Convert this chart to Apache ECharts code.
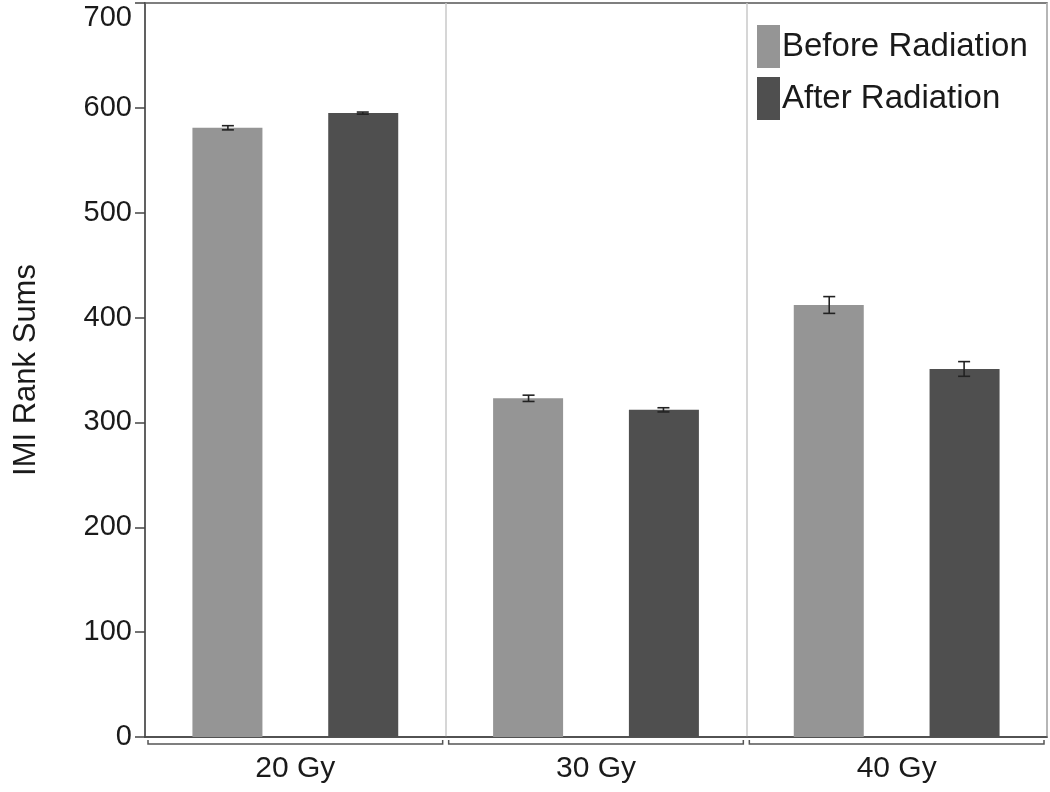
<!DOCTYPE html>
<html><head><meta charset="utf-8">
<script src="https://cdn.jsdelivr.net/npm/echarts@6/dist/echarts.min.js"></script>
<style>html,body{margin:0;padding:0;background:#fff}#c{width:1050px;height:792px}</style>
</head><body><div id="c"></div>
<script>
const categories = ['20 Gy', '30 Gy', '40 Gy'];
const seriesNames = ['Before Radiation', 'After Radiation'];
const beforeValues = [581, 323, 412];
const beforeErrors = [2, 3, 8];
const afterValues = [595, 312, 351];
const afterErrors = [1, 2, 7];
const yTicks = [0, 100, 200, 300, 400, 500, 600, 700];

const FONT = '"Liberation Sans", Arial, Helvetica, sans-serif';
const colors = ['#959595', '#4f4f4f'];
const chart = echarts.init(document.getElementById('c'));
const yMax = yTicks[yTicks.length - 1];

function errorSeries(name, values, errors, side) {
  return {
    type: 'custom', name: name + ' err', silent: true, z: 5,
    data: values.map((v, i) => [i, v, errors[i]]),
    renderItem: function (params, api) {
      const i = api.value(0), v = api.value(1), e = api.value(2);
      const band = api.size([1, 0])[0];
      const off = side * band * 0.2243;
      const top = api.coord([i, v + e]);
      const bot = api.coord([i, v - e]);
      const x = top[0] + off;
      const cap = 6;
      const st = { stroke: '#222', lineWidth: 1.6 };
      return { type: 'group', children: [
        { type: 'line', shape: { x1: x, y1: top[1], x2: x, y2: bot[1] }, style: st },
        { type: 'line', shape: { x1: x - cap, y1: top[1], x2: x + cap, y2: top[1] }, style: st },
        { type: 'line', shape: { x1: x - cap, y1: bot[1], x2: x + cap, y2: bot[1] }, style: st }
      ]};
    }
  };
}

const bracketSeries = {
  type: 'custom', silent: true, clip: false, z: 6,
  data: categories.map((c, i) => [i, 0]),
  renderItem: function (params, api) {
    const i = api.value(0);
    const band = api.size([1, 0])[0];
    const p = api.coord([i, 0]);
    const x1 = p[0] - band / 2 + 3, x2 = p[0] + band / 2 - 3;
    const y = p[1] + 7, yt = p[1] + 3;
    const st = { stroke: '#555', lineWidth: 1.5, fill: null };
    return { type: 'polyline', shape: { points: [[x1, yt], [x1, y], [x2, y], [x2, yt]] }, style: st };
  }
};

chart.setOption({
  animation: false,
  backgroundColor: '#fff',
  color: colors,
  grid: { left: 145, right: 3, top: 3, bottom: 55, show: true, borderColor: '#555', borderWidth: 1.5,
          backgroundColor: 'transparent', containLabel: false, outerBoundsMode: 'none' },
  legend: {
    data: seriesNames, left: 752, top: 20, orient: 'vertical',
    itemWidth: 23, itemHeight: 43, itemGap: 9, icon: 'rect',
    textStyle: { fontSize: 33, color: '#1a1a1a', fontFamily: FONT, padding: [0, 0, 0, -3] }
  },
  xAxis: {
    type: 'category', data: categories, boundaryGap: true,
    axisLine: { show: true, lineStyle: { color: '#444', width: 1.5 } },
    axisTick: { show: false },
    splitLine: { show: true, lineStyle: { color: '#c8c8c8', width: 1.5 } },
    axisLabel: { fontSize: 30, color: '#1a1a1a', fontFamily: FONT, margin: 17 }
  },
  yAxis: {
    type: 'value', min: yTicks[0], max: yMax, interval: 100,
    name: 'IMI Rank Sums', nameLocation: 'middle', nameGap: 103, nameRotate: 90,
    nameTextStyle: { fontSize: 31, color: '#1a1a1a', fontFamily: FONT },
    axisLine: { show: true, lineStyle: { color: '#444', width: 1.5 } },
    axisTick: { show: true, length: 10, lineStyle: { color: '#444', width: 1.5 } },
    splitLine: { show: false },
    axisLabel: {
      fontSize: 29, color: '#1a1a1a', fontFamily: FONT, margin: 13,
      formatter: v => v === yMax ? '{t|' + v + '}' : String(v),
      rich: { t: { fontSize: 29, color: '#1a1a1a', fontFamily: FONT, padding: [29, 0, 0, 0] } }
    }
  },
  series: [
    { type: 'bar', name: seriesNames[0], data: beforeValues, barWidth: 70, barGap: '94%', itemStyle: { color: colors[0] } },
    { type: 'bar', name: seriesNames[1], data: afterValues, barWidth: 70, itemStyle: { color: colors[1] } },
    errorSeries(seriesNames[0], beforeValues, beforeErrors, -1),
    errorSeries(seriesNames[1], afterValues, afterErrors, 1),
    bracketSeries
  ]
});
</script></body></html>
